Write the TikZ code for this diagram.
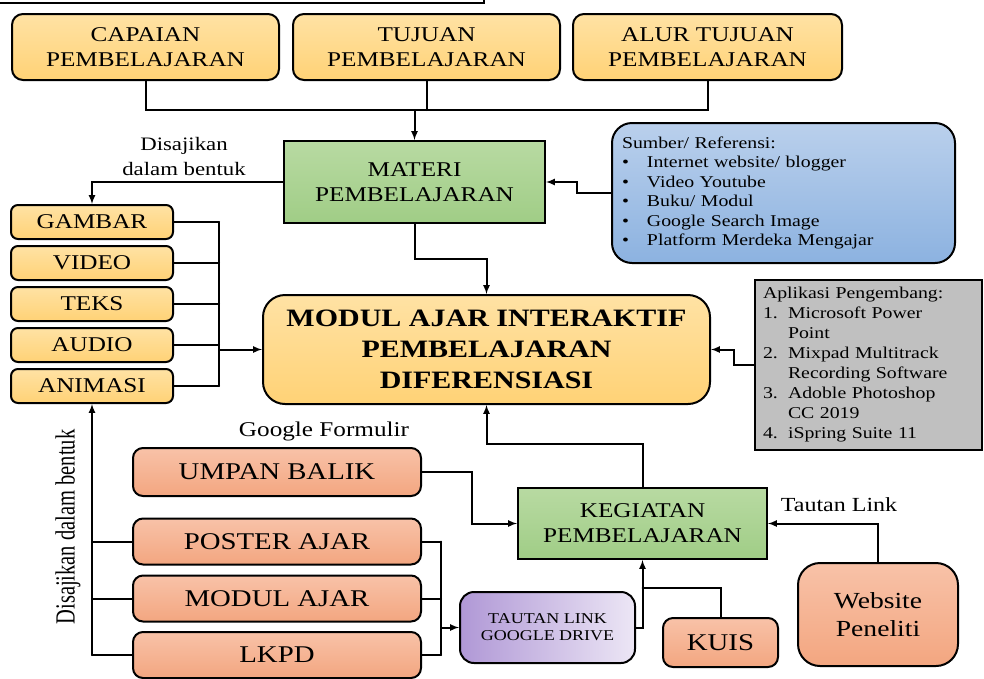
\documentclass[tikz,border=0pt]{standalone}
\usepackage{fontspec}
\setmainfont[FakeStretch=1.2]{Liberation Serif}
\newfontfamily\plainfont{Liberation Serif}
\usetikzlibrary{shadings}
\definecolor{ylwtop}{RGB}{255,226,164}
\definecolor{ylwbot}{RGB}{255,210,118}
\definecolor{grntop}{RGB}{184,218,162}
\definecolor{grnbot}{RGB}{160,205,134}
\definecolor{saltop}{RGB}{248,194,168}
\definecolor{salbot}{RGB}{243,166,128}
\definecolor{blutop}{RGB}{186,208,236}
\definecolor{blubot}{RGB}{140,178,224}
\definecolor{purdark}{RGB}{176,152,214}
\definecolor{purlite}{RGB}{236,230,245}
\definecolor{aplgray}{RGB}{192,192,192}
\begin{document}
\begin{tikzpicture}[x=1pt,y=-1pt,>=latex,line width=2pt,line cap=round,
  ybox/.style={draw,rounded corners=11pt,top color=ylwtop,bottom color=ylwbot,
    align=center,inner sep=0pt},
  gbox/.style={draw,top color=grntop,bottom color=grnbot,align=center,inner sep=0pt},
  sbox/.style={draw,rounded corners=10pt,top color=saltop,bottom color=salbot,
    align=center,inner sep=0pt}]
  \useasboundingbox (0,0) rectangle (984,678);
  % edge of the frame above the picture
  \draw[line width=2.5pt,line cap=butt] (0,3) -- (484,3) -- (484,0);
  % three sources on top
  \node[ybox,minimum width=267pt,minimum height=66pt,
    font=\fontsize{21}{25}\selectfont] (cp) at (145.5,47) {CAPAIAN\\PEMBELAJARAN};
  \node[ybox,minimum width=267pt,minimum height=66pt,
    font=\fontsize{21}{25}\selectfont] (tp) at (426.5,47) {TUJUAN\\PEMBELAJARAN};
  \node[ybox,minimum width=269pt,minimum height=66pt,
    font=\fontsize{21}{25}\selectfont] (atp) at (707.5,47) {ALUR TUJUAN\\PEMBELAJARAN};
  \node[gbox,minimum width=261pt,minimum height=82pt,
    font=\fontsize{21}{25}\selectfont] (materi) at (414.5,182) {MATERI\\PEMBELAJARAN};
  \coordinate (tbus) at (414.5,110);
  \draw (cp.south) -- (cp.south |- tbus) -- (atp.south |- tbus) -- (atp.south);
  \draw (tp.south) -- (tp.south |- tbus);
  \draw[->] (tbus) -- (materi.north);
  % references
  \node[draw,rounded corners=20pt,top color=blutop,bottom color=blubot,
    minimum width=343pt,minimum height=140pt,align=left,inner sep=0pt,
    text width=323pt,font=\fontsize{16.5}{19.5}\selectfont] (sumber) at (783.5,193)
    {Sumber/ Referensi:\\
     \makebox[25pt][l]{\textbullet}Internet website/ blogger\\
     \makebox[25pt][l]{\textbullet}Video Youtube\\
     \makebox[25pt][l]{\textbullet}Buku/ Modul\\
     \makebox[25pt][l]{\textbullet}Google Search Image\\
     \makebox[25pt][l]{\textbullet}Platform Merdeka Mengajar};
  \draw[->] (sumber.west) -- ++(-34,0) |- (materi.east);
  % forms of presentation
  \foreach \n/\t/\y in {gambar/GAMBAR/222,video/VIDEO/263,teks/TEKS/304,
      audio/AUDIO/345,animasi/ANIMASI/386} {
    \node[ybox,rounded corners=7pt,minimum width=162pt,minimum height=34pt,
      font=\fontsize{21}{25}\selectfont] (\n) at (92,\y) {\t};
  }
  \draw[->] (materi.west) -| (gambar.north);
  \node[align=center,font=\fontsize{19}{25}\selectfont] (dsj) at (184,156)
    {Disajikan\\dalam bentuk};
  \node[ybox,rounded corners=22pt,minimum width=447pt,minimum height=109pt,
    font=\fontsize{25}{31}\selectfont\bfseries] (modul) at (486.5,349.5)
    {MODUL AJAR INTERAKTIF\\PEMBELAJARAN\\DIFERENSIASI};
  \coordinate (lbus) at (219,349.5);
  \foreach \n in {gambar,video,teks,audio,animasi} {
    \draw (\n.east) -- (\n.east -| lbus);
  }
  \draw (gambar.east -| lbus) -- (animasi.east -| lbus);
  \draw[->] (lbus) -- (modul.west);
  \draw[->] (materi.south) -- ++(0,35) -| (modul.north);
  % development tools
  \node[draw,fill=aplgray,minimum width=227pt,minimum height=170pt,align=left,
    inner sep=0pt,text width=211pt,font=\fontsize{16.5}{20}\selectfont] (aplikasi)
    at (868.5,365)
    {Aplikasi Pengembang:\\
     \makebox[25pt][l]{1.}Microsoft Power\\
     \makebox[25pt][l]{}Point\\
     \makebox[25pt][l]{2.}Mixpad Multitrack\\
     \makebox[25pt][l]{}Recording Software\\
     \makebox[25pt][l]{3.}Adoble Photoshop\\
     \makebox[25pt][l]{}CC 2019\\
     \makebox[25pt][l]{4.}iSpring Suite 11};
  \draw[->] (aplikasi.west) -- ++(-20,0) |- (modul.east);
  % learning activity and its inputs
  \node[gbox,minimum width=249pt,minimum height=71pt,
    font=\fontsize{21}{25}\selectfont] (kegiatan) at (642.5,523.5)
    {KEGIATAN\\PEMBELAJARAN};
  \draw[->] (kegiatan.north) -- ++(0,-43) -| (modul.south);
  \node[sbox,minimum width=288pt,minimum height=48pt,
    font=\fontsize{24}{28}\selectfont] (umpan) at (277,472) {UMPAN BALIK};
  \node[font=\fontsize{21}{25}\selectfont] (gform) at (324,431) {Google Formulir};
  \draw[->] (umpan.east) -- ++(50,0) |- (kegiatan.west);
  \foreach \n/\t/\y in {poster/POSTER AJAR/541.5,modulajar/MODUL AJAR/598.5,
      lkpd/LKPD/655} {
    \node[sbox,minimum width=288pt,minimum height=46pt,
      font=\fontsize{24}{28}\selectfont] (\n) at (277,\y) {\t};
  }
  \foreach \n in {poster,modulajar,lkpd} {
    \draw (\n.west) -- (\n.west -| animasi.south);
  }
  \draw[->] (lkpd.west -| animasi.south) -- (animasi.south);
  \node[rotate=90] (dsj2) at (68,527)
    {\scalebox{1}[1.35]{\plainfont\fontsize{20.5}{24}\selectfont Disajikan dalam bentuk}};
  \node[draw,rounded corners=14pt,left color=purdark,right color=purlite,
    minimum width=175pt,minimum height=71pt,align=center,
    inner sep=0pt,font=\fontsize{15}{17}\selectfont] (tautan) at (547.5,627.5)
    {TAUTAN LINK\\GOOGLE DRIVE};
  \coordinate (rbus) at (441,627.5);
  \foreach \n in {poster,modulajar,lkpd} {
    \draw (\n.east) -- (\n.east -| rbus);
  }
  \draw (poster.east -| rbus) -- (lkpd.east -| rbus);
  \draw[->] (rbus) -- (tautan.west);
  \draw[->] (tautan.east) -| (kegiatan.south);
  \node[sbox,minimum width=115pt,minimum height=49pt,
    font=\fontsize{24}{28}\selectfont] (kuis) at (720.5,642.5) {KUIS};
  \coordinate (kjoin) at (642.5,588);
  \draw (kuis.north) |- (kjoin);
  \node[sbox,rounded corners=22pt,minimum width=160pt,minimum height=103pt,
    font=\fontsize{23}{28}\selectfont] (website) at (878,614.5) {Website\\Peneliti};
  \draw[->] (website.north) |- (kegiatan.east);
  \node[font=\fontsize{20}{24}\selectfont] (ttn) at (839,505) {Tautan Link};
\end{tikzpicture}
\end{document}
